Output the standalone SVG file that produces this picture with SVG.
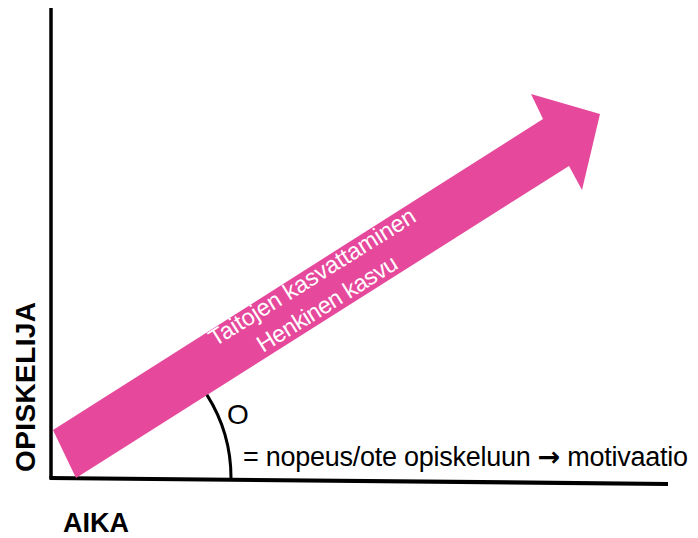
<svg xmlns="http://www.w3.org/2000/svg" width="698" height="538" viewBox="0 0 698 538">
  <style>
    .axis { stroke: #000; fill: none; stroke-linecap: butt; }
    .lbl { font-family: "Liberation Sans", Arial, sans-serif; fill: #000; }
    .bold { font-weight: bold; }
    .sym { font-family: "DejaVu Sans", sans-serif; font-weight: bold; }
    .inarrow { font-family: "Liberation Sans", Arial, sans-serif; fill: #fff; font-size: 23.5px; text-anchor: middle; }
  </style>
  <rect x="0" y="0" width="698" height="538" fill="#fff"/>
  <g id="axes">
    <line class="axis" x1="51" y1="8" x2="51" y2="479" stroke-width="3.5"/>
    <line class="axis" x1="49.5" y1="478" x2="668" y2="484" stroke-width="4.2"/>
  </g>
  <g id="growth-arrow">
    <polygon points="53,430 543,119 531,94 600,114 582,190 569,166 76,478" fill="#E6499C"/>
    <text class="inarrow" transform="translate(316.3,283.7) rotate(-32)" textLength="239">Taitojen kasvattaminen</text>
    <text class="inarrow" transform="translate(331.3,310.3) rotate(-32)" textLength="161">Henkinen kasvu</text>
  </g>
  <g id="angle">
    <path class="axis" d="M231,478 A155,155 0 0 0 206.9,394.9" stroke-width="3"/>
    <text class="lbl" x="227" y="424" font-size="28">O</text>
    <text class="lbl" x="243" y="466" font-size="27" textLength="445">= nopeus/ote opiskeluun <tspan class="sym">→</tspan> motivaatio</text>
  </g>
  <g id="y-label">
    <text class="lbl bold" transform="translate(35,387) rotate(-90)" font-size="28" text-anchor="middle" textLength="170">OPISKELIJA</text>
  </g>
  <g id="x-label">
    <text class="lbl bold" x="63" y="532" font-size="27">AIKA</text>
  </g>
</svg>
